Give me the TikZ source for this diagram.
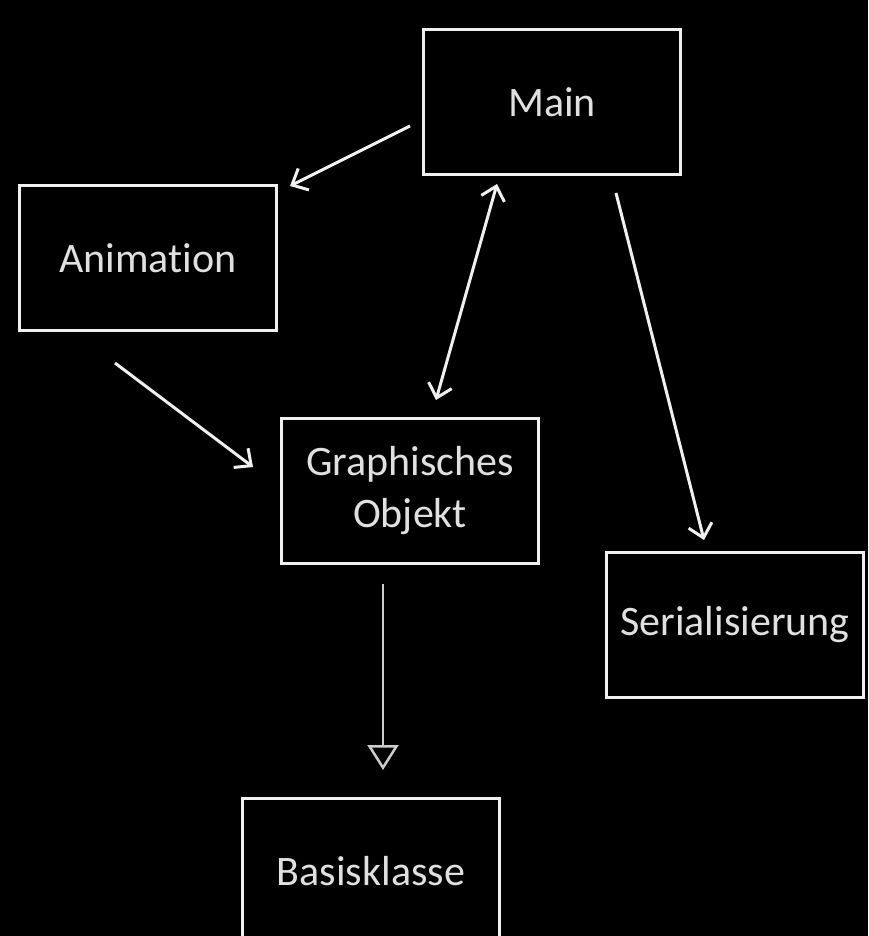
\documentclass[tikz,border=0pt]{standalone}
\usepackage{fontspec}
\setmainfont{Carlito}[Ligatures=NoCommon]
\usetikzlibrary{positioning,arrows.meta,calc}

\begin{document}
\begin{tikzpicture}[x=1pt,y=-1pt]
    \fill[black] (0,0) rectangle (868,936);
    \useasboundingbox (0,0) rectangle (868,936);
    \begin{scope}[on grid, text centered,
    		block/.style={rectangle,draw=white!94!black,line width=3pt,minimum width=257pt,minimum height=145pt,
    			text=white!88!black,font=\fontsize{42}{52}\selectfont,align=center},
    		arrow/.style={white!94!black,line width=3pt,-{Straight Barb[length=13pt,width=24pt]}},
    		twoway/.style={white!94!black,line width=3pt,{Straight Barb[length=13pt,width=24pt]}-{Straight Barb[length=13pt,width=24pt]}},
    		inherit/.style={white!80!black,line width=2.5pt,-{Triangle[open,length=25pt,width=31pt]}}]

    \node[block] (main) at (552,102) {Main};
    \node[block] (anim) [below left=156pt and 404pt of main] {Animation};
    \node[block] (graph) [below right=233pt and 262pt of anim] {Graphisches\\Objekt};
    \node[block] (serial) [below right=523pt and 183pt of main] {Serialisierung};
    \node[block] (basis) [below=380pt of graph, xshift=-39pt] {Basisklasse};

    % connector ends, kept clear of the boxes
    \coordinate (m2a-s) at ($(main.west)+(-12,24)$);
    \coordinate (m2a-e) at ($(anim.north east)+(12,2)$);
    \coordinate (a2g-s) at ($(anim.south)+(-33,31)$);
    \coordinate (a2g-e) at ($(graph.west)+(-27,-24)$);
    \coordinate (m2s-s) at ($(main.south)+(64,17)$);
    \coordinate (m2s-e) at ($(serial.north)+(-31,-11)$);
    \coordinate (m2g-s) at ($(main.south)+(-55,8)$);
    \coordinate (m2g-e) at ($(graph.north)+(26,-17)$);
    \coordinate (g2b-s) at ($(graph.south)+(-27,19)$);
    \coordinate (g2b-e) at ($(basis.north)+(12,-27)$);

    \draw[arrow] (m2a-s) -- (m2a-e);
    \draw[arrow] (a2g-s) -- (a2g-e);
    \draw[arrow] (m2s-s) -- (m2s-e);
    \draw[twoway] (m2g-e) -- (m2g-s);
    \draw[inherit] (g2b-s) -- (g2b-e);

    \end{scope}
\end{tikzpicture}
\end{document}
